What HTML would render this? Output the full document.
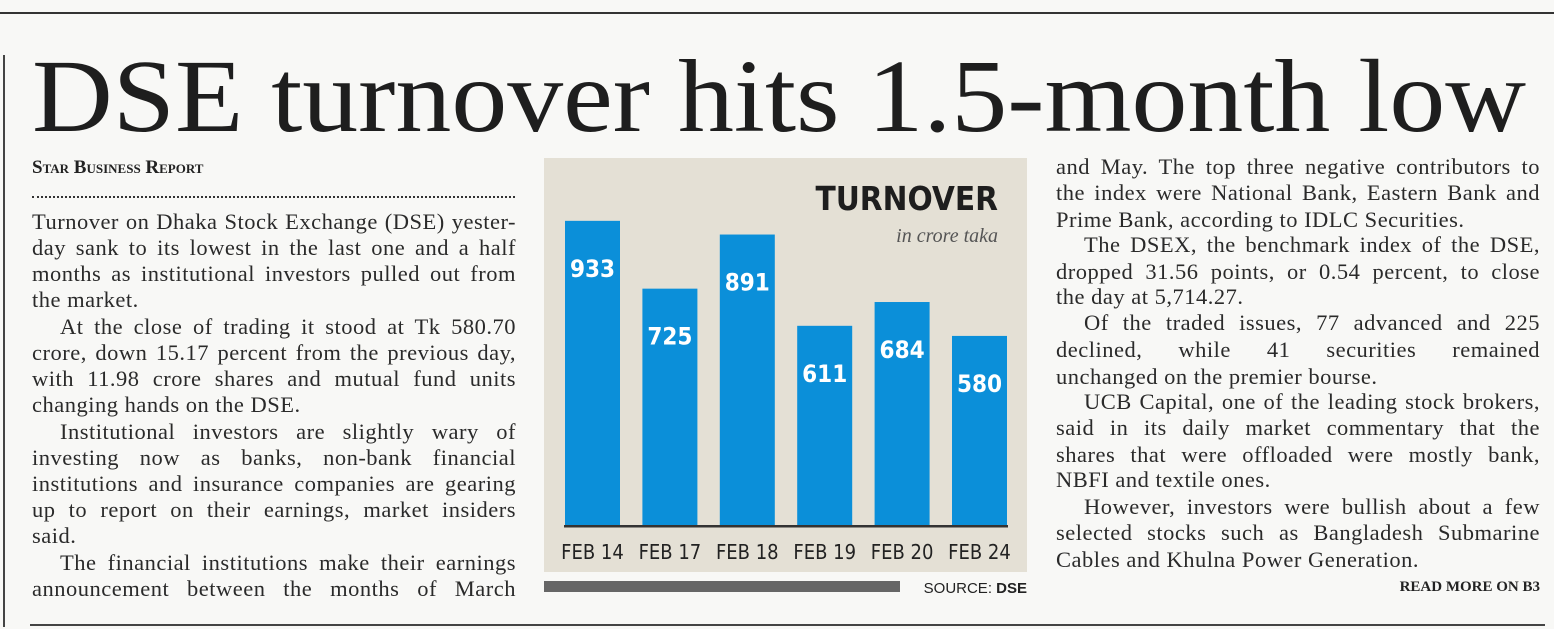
<!DOCTYPE html>
<html><head><meta charset="utf-8">
<style>
body{margin:0;width:1554px;height:629px;background:#f8f8f6;position:relative;overflow:hidden;font-family:"Liberation Serif",serif;color:#222}
.ln{position:absolute;font-size:22.5px;letter-spacing:0.5px;line-height:26px;height:26px;white-space:nowrap;text-align:justify;text-align-last:justify;color:#2a2a2a}
.l{text-align-last:left}
.ind{text-indent:28px}
</style></head><body>
<div style="position:absolute;left:0;top:12px;width:1554px;height:2px;background:#333"></div>
<div style="position:absolute;left:3px;top:55px;width:2px;height:572px;background:#444"></div>
<div style="position:absolute;left:30px;top:624px;width:1515px;height:2px;background:#444"></div>
<svg style="position:absolute;left:0;top:0" width="1554" height="150">
<text x="32" y="131" textLength="1494" lengthAdjust="spacingAndGlyphs" font-family="Liberation Serif" font-size="104" fill="#1e1e1e">DSE turnover hits 1.5-month low</text>
</svg>
<div style="position:absolute;left:32px;top:157px;font-size:19px;font-weight:bold;font-variant:small-caps;color:#222">Star Business Report</div>
<div style="position:absolute;left:32px;top:196px;width:483px;border-top:2px dotted #333"></div>

<div>
<div class="ln" style="left:32px;width:484px;top:209px">Turnover on Dhaka Stock Exchange (DSE) yester-</div>
<div class="ln" style="left:32px;width:484px;top:235px">day sank to its lowest in the last one and a half</div>
<div class="ln" style="left:32px;width:484px;top:261px">months as institutional investors pulled out from</div>
<div class="ln l" style="left:32px;width:484px;top:287px">the market.</div>
<div class="ln ind" style="left:32px;width:484px;top:314px">At the close of trading it stood at Tk 580.70</div>
<div class="ln" style="left:32px;width:484px;top:340px">crore, down 15.17 percent from the previous day,</div>
<div class="ln" style="left:32px;width:484px;top:366px">with 11.98 crore shares and mutual fund units</div>
<div class="ln l" style="left:32px;width:484px;top:392px">changing hands on the DSE.</div>
<div class="ln ind" style="left:32px;width:484px;top:419px">Institutional investors are slightly wary of</div>
<div class="ln" style="left:32px;width:484px;top:445px">investing now as banks, non-bank financial</div>
<div class="ln" style="left:32px;width:484px;top:471px">institutions and insurance companies are gearing</div>
<div class="ln" style="left:32px;width:484px;top:497px">up to report on their earnings, market insiders</div>
<div class="ln l" style="left:32px;width:484px;top:523px">said.</div>
<div class="ln ind" style="left:32px;width:484px;top:550px">The financial institutions make their earnings</div>
<div class="ln" style="left:32px;width:484px;top:576px">announcement between the months of March</div>
</div>

<div>
<div class="ln" style="left:1056px;width:484px;top:154px">and May. The top three negative contributors to</div>
<div class="ln" style="left:1056px;width:484px;top:180px">the index were National Bank, Eastern Bank and</div>
<div class="ln l" style="left:1056px;width:484px;top:207px">Prime Bank, according to IDLC Securities.</div>
<div class="ln ind" style="left:1056px;width:484px;top:232px">The DSEX, the benchmark index of the DSE,</div>
<div class="ln" style="left:1056px;width:484px;top:259px">dropped 31.56 points, or 0.54 percent, to close</div>
<div class="ln l" style="left:1056px;width:484px;top:284px">the day at 5,714.27.</div>
<div class="ln ind" style="left:1056px;width:484px;top:310px">Of the traded issues, 77 advanced and 225</div>
<div class="ln" style="left:1056px;width:484px;top:337px">declined, while 41 securities remained</div>
<div class="ln l" style="left:1056px;width:484px;top:364px">unchanged on the premier bourse.</div>
<div class="ln ind" style="left:1056px;width:484px;top:389px">UCB Capital, one of the leading stock brokers,</div>
<div class="ln" style="left:1056px;width:484px;top:415px">said in its daily market commentary that the</div>
<div class="ln" style="left:1056px;width:484px;top:442px">shares that were offloaded were mostly bank,</div>
<div class="ln l" style="left:1056px;width:484px;top:467px">NBFI and textile ones.</div>
<div class="ln ind" style="left:1056px;width:484px;top:494px">However, investors were bullish about a few</div>
<div class="ln" style="left:1056px;width:484px;top:520px">selected stocks such as Bangladesh Submarine</div>
<div class="ln l" style="left:1056px;width:484px;top:547px">Cables and Khulna Power Generation.</div>
</div>
<div style="position:absolute;right:14px;top:579px;font-size:15px;font-weight:bold;color:#222">READ MORE ON B3</div>

<svg id="chart" style="position:absolute;left:0;top:0" width="1554" height="629">
<rect x="544" y="158" width="483" height="414" fill="#e4e0d5"/>
<text x="998" y="210" text-anchor="end" font-family="DejaVu Sans Condensed, Liberation Sans, sans-serif" font-weight="bold" font-size="33" fill="#1e1e1e">TURNOVER</text>
<text x="998" y="242" text-anchor="end" font-family="Liberation Serif, serif" font-style="italic" font-size="20" fill="#555">in crore taka</text>
<g id="bars"></g>
<rect x="564" y="525" width="444" height="2.5" fill="#333"/>
<rect x="544" y="581" width="356" height="11" fill="#666"/>
<text x="1027" y="593" text-anchor="end" font-family="Liberation Sans, sans-serif" font-size="15" fill="#222">SOURCE: <tspan font-weight="bold">DSE</tspan></text>
</svg>
<script>
const categories = ["FEB 14","FEB 17","FEB 18","FEB 19","FEB 20","FEB 24"];
const values = [933,725,891,611,684,580];
const valueLabels = ["933","725","891","611","684","580"];
const NS="http://www.w3.org/2000/svg";
const baseY=525, scale=0.326, x0=565, pitch=77.4, bw=55;
function xPos(i){return x0+i*pitch;}
function yPos(v){return baseY-v*scale;}
const g=document.getElementById('bars');
values.forEach((v,i)=>{
  const r=document.createElementNS(NS,'rect');
  r.setAttribute('x',xPos(i));r.setAttribute('y',yPos(v));
  r.setAttribute('width',bw);r.setAttribute('height',baseY-yPos(v));
  r.setAttribute('fill','#0b8fd9');
  
  
  g.appendChild(r);
  const t=document.createElementNS(NS,'text');
  t.setAttribute('x',xPos(i)+bw/2);t.setAttribute('y',yPos(v)+56);
  t.setAttribute('text-anchor','middle');t.setAttribute('fill','#fff');
  t.setAttribute('font-family','DejaVu Sans Condensed, Liberation Sans, sans-serif');
  t.setAttribute('font-weight','bold');t.setAttribute('font-size','24');
  t.textContent=valueLabels[i];
  
  
  g.appendChild(t);
  const c=document.createElementNS(NS,'text');
  c.setAttribute('x',xPos(i)+bw/2);c.setAttribute('y',559);
  c.setAttribute('text-anchor','middle');c.setAttribute('fill','#222');
  c.setAttribute('font-family','DejaVu Sans Condensed, Liberation Sans Narrow, sans-serif');
  c.setAttribute('font-size','20');
  c.textContent=categories[i];
  
  
  g.appendChild(c);
});
</script>
</body></html>
